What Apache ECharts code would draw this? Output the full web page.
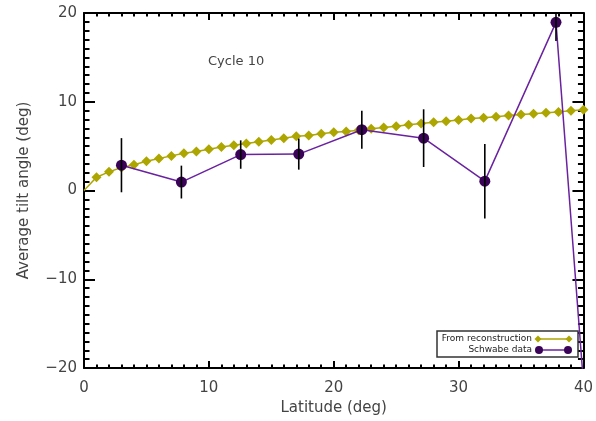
<!DOCTYPE html>
<html>
<head>
<meta charset="utf-8">
<script src="https://cdn.jsdelivr.net/npm/echarts@6/dist/echarts.min.js"></script>
<style>
  html, body { margin: 0; padding: 0; background: #fff; }
  #chart { width: 596px; height: 421px; }
</style>
</head>
<body>
<div id="chart"></div>
<script>
// Reconstructed tilt angle, one value per degree of latitude (0..40)
const reconLat = [0, 1, 2, 3, 4, 5, 6, 7, 8, 9, 10, 11, 12, 13, 14, 15, 16, 17, 18, 19, 20,
  21, 22, 23, 24, 25, 26, 27, 28, 29, 30, 31, 32, 33, 34, 35, 36, 37, 38, 39, 40];
const reconTilt = [0, 1.5, 2.1, 2.6, 2.9, 3.3, 3.6, 3.9, 4.2, 4.4, 4.65, 4.9, 5.1, 5.3, 5.5, 5.7, 5.9, 6.1, 6.2, 6.4, 6.55,
  6.65, 6.8, 6.95, 7.1, 7.25, 7.4, 7.55, 7.7, 7.8, 7.95, 8.1, 8.2, 8.3, 8.45, 8.55, 8.65, 8.75, 8.85, 9.0, 9.1];

// Schwabe observations: latitude bin centre, mean tilt, 1-sigma error
const schwabeLat = [3.0, 7.8, 12.55, 17.2, 22.25, 27.2, 32.1, 37.8, 40.0];
const schwabeTilt = [2.85, 0.95, 4.05, 4.1, 6.85, 5.9, 1.05, 18.95, -21.7];
const schwabeErr = [3.05, 1.85, 1.6, 1.75, 2.15, 3.25, 4.2, 2.1, null];

const xTicks = [0, 10, 20, 30, 40];
const yTicks = [-20, -10, 0, 10, 20];

const OLIVE = '#ada600';
const PURPLE_LINE = '#6a22a0';
const PURPLE_DOT = '#3b0358';
const TEXT = '#444444';
const FONT = 'DejaVu Sans';

const reconData = reconLat.map((x, i) => ({
  value: [x, reconTilt[i]],
  symbol: i === 0 ? 'none' : 'diamond'
}));
const schwabeData = schwabeLat.map((x, i) => [x, schwabeTilt[i]]);
const errData = schwabeLat
  .map((x, i) => [x, schwabeTilt[i], schwabeErr[i]])
  .filter(d => d[2] != null);

const yLabel = v => (v < 0 ? '\u2212' + Math.abs(v) : String(v));

function axisBase(extra) {
  return Object.assign({
    type: 'value',
    axisLine: { show: true, onZero: false, lineStyle: { color: '#000', width: 2 } },
    splitLine: { show: false },
    axisLabel: { color: TEXT, fontFamily: FONT, fontSize: 15 },
    nameTextStyle: { color: TEXT, fontFamily: FONT, fontSize: 15 }
  }, extra);
}

const chart = echarts.init(document.getElementById('chart'), null, { renderer: 'canvas' });

chart.setOption({
  animation: false,
  backgroundColor: '#fff',
  grid: { left: 84, right: 12, top: 13, bottom: 53, containLabel: false },
  xAxis: [
    axisBase({
      min: xTicks[0], max: xTicks[xTicks.length - 1], interval: 10,
      position: 'bottom',
      name: 'Latitude (deg)', nameLocation: 'middle', nameGap: 33,
      axisTick: { show: true, inside: true, length: 7, lineStyle: { color: '#000', width: 2 } },
      minorTick: { show: true, splitNumber: 10, length: 3.5, lineStyle: { color: '#000', width: 2 } },
      axisLabel: { color: TEXT, fontFamily: FONT, fontSize: 15, margin: 13 }
    }),
    axisBase({
      min: xTicks[0], max: xTicks[xTicks.length - 1], interval: 10,
      position: 'top',
      axisTick: { show: true, inside: true, length: 7, lineStyle: { color: '#000', width: 2 } },
      minorTick: { show: true, splitNumber: 10, length: 3.5, lineStyle: { color: '#000', width: 2 } },
      axisLabel: { show: false }
    })
  ],
  yAxis: [
    axisBase({
      min: yTicks[0], max: yTicks[yTicks.length - 1], interval: 10,
      position: 'left',
      name: 'Average tilt angle (deg)', nameLocation: 'middle', nameGap: 52,
      axisTick: { show: true, inside: true, length: 11, lineStyle: { color: '#000', width: 2 } },
      minorTick: { show: true, splitNumber: 10, length: 5.5, lineStyle: { color: '#000', width: 2 } },
      axisLabel: { color: TEXT, fontFamily: FONT, fontSize: 15, margin: 7, formatter: yLabel }
    }),
    axisBase({
      min: yTicks[0], max: yTicks[yTicks.length - 1], interval: 10,
      position: 'right',
      axisTick: { show: true, inside: true, length: 11, lineStyle: { color: '#000', width: 2 } },
      minorTick: { show: true, splitNumber: 10, length: 5.5, lineStyle: { color: '#000', width: 2 } },
      axisLabel: { show: false }
    })
  ],
  series: [
    {
      name: 'From reconstruction',
      type: 'line',
      data: reconData,
      symbol: 'diamond',
      symbolSize: 10,
      clip: true,
      lineStyle: { color: OLIVE, width: 1.5 },
      itemStyle: { color: OLIVE },
      z: 3
    },
    {
      name: 'Schwabe data',
      type: 'line',
      data: schwabeData,
      symbol: 'circle',
      symbolSize: 11,
      clip: true,
      lineStyle: { color: PURPLE_LINE, width: 1.5 },
      itemStyle: { color: PURPLE_DOT },
      z: 4
    },
    {
      name: 'errors',
      type: 'custom',
      data: errData,
      clip: true,
      z: 5,
      renderItem: function (params, api) {
        const x = api.value(0), y = api.value(1), e = api.value(2);
        const p1 = api.coord([x, y + e]);
        const p2 = api.coord([x, y - e]);
        return {
          type: 'line',
          shape: { x1: p1[0], y1: p1[1], x2: p2[0], y2: p2[1] },
          style: { stroke: '#000', lineWidth: 1.6 }
        };
      }
    }
  ],
  graphic: [
    {
      type: 'text', left: 208, top: 55,
      style: { text: 'Cycle 10', fill: TEXT, font: '13px ' + FONT }
    },
    // legend box
    {
      type: 'rect', shape: { x: 437, y: 331, width: 141, height: 26 },
      style: { fill: '#fff', stroke: '#333', lineWidth: 1.5 }, z: 20
    },
    {
      type: 'text', x: 532, y: 339, z: 21,
      style: { text: 'From reconstruction', fill: '#222', font: '9px ' + FONT, textAlign: 'right', textVerticalAlign: 'middle' }
    },
    {
      type: 'text', x: 532, y: 350, z: 21,
      style: { text: 'Schwabe data', fill: '#222', font: '9px ' + FONT, textAlign: 'right', textVerticalAlign: 'middle' }
    },
    {
      type: 'line', shape: { x1: 538, y1: 339, x2: 569, y2: 339 }, z: 21,
      style: { stroke: OLIVE, lineWidth: 1.5 }
    },
    {
      type: 'polygon', shape: { points: [[538, 335.5], [541.5, 339], [538, 342.5], [534.5, 339]] }, z: 22,
      style: { fill: OLIVE }
    },
    {
      type: 'polygon', shape: { points: [[569, 335.5], [572.5, 339], [569, 342.5], [565.5, 339]] }, z: 22,
      style: { fill: OLIVE }
    },
    {
      type: 'line', shape: { x1: 539, y1: 350, x2: 568, y2: 350 }, z: 21,
      style: { stroke: PURPLE_LINE, lineWidth: 1.5 }
    },
    {
      type: 'circle', shape: { cx: 539, cy: 350, r: 4 }, z: 22,
      style: { fill: PURPLE_DOT }
    },
    {
      type: 'circle', shape: { cx: 568, cy: 350, r: 4 }, z: 22,
      style: { fill: PURPLE_DOT }
    }
  ]
});
</script>
</body>
</html>
